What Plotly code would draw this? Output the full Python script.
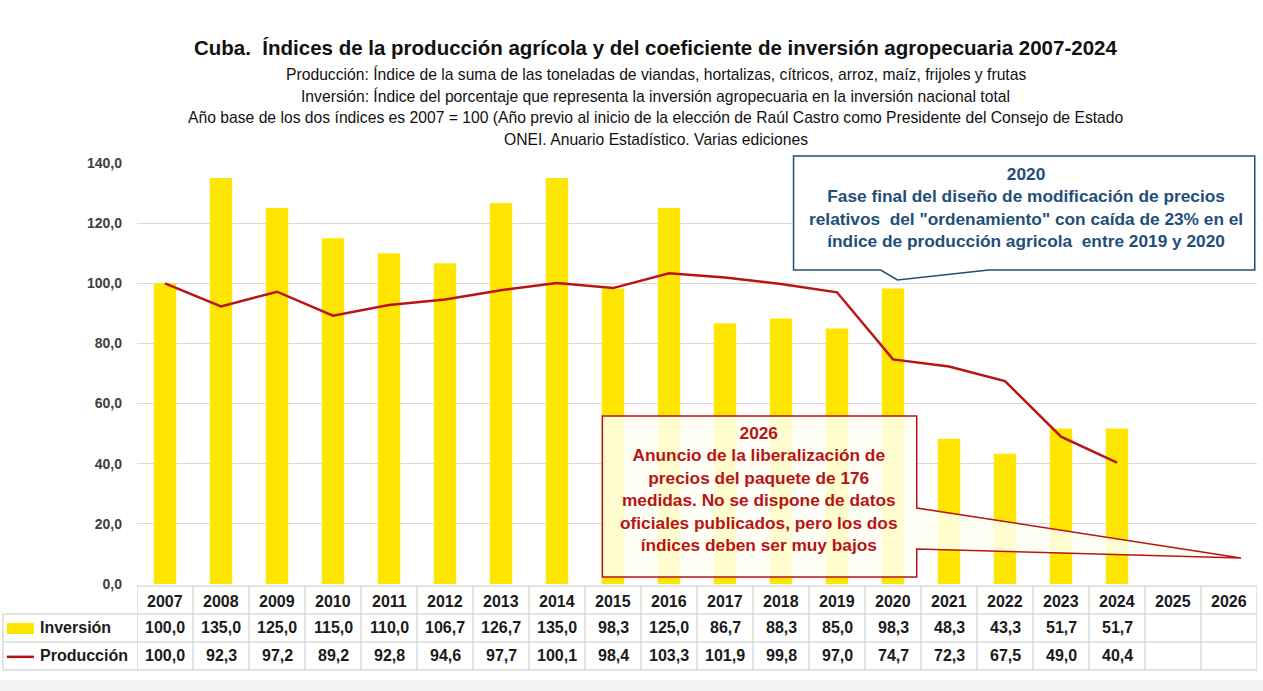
import plotly.graph_objects as go

# ---------------- data ----------------
years = list(range(2007, 2027))
data_years = list(range(2007, 2025))
inversion = [100.0, 135.0, 125.0, 115.0, 110.0, 106.7, 126.7, 135.0, 98.3, 125.0,
             86.7, 88.3, 85.0, 98.3, 48.3, 43.3, 51.7, 51.7]
produccion = [100.0, 92.3, 97.2, 89.2, 92.8, 94.6, 97.7, 100.1, 98.4, 103.3,
              101.9, 99.8, 97.0, 74.7, 72.3, 67.5, 49.0, 40.4]
y_ticks = [0, 20, 40, 60, 80, 100, 120, 140]
series_names = ["Inversión", "Producción"]

title = "Cuba.  Índices de la producción agrícola y del coeficiente de inversión agropecuaria 2007-2024"
subtitles = [
    "Producción: Índice de la suma de las toneladas de viandas, hortalizas, cítricos, arroz, maíz, frijoles y frutas",
    "Inversión: Índice del porcentaje que representa la inversión agropecuaria en la inversión nacional total",
    "Año base de los dos índices es 2007 = 100 (Año previo al inicio de la elección de Raúl Castro como Presidente del Consejo de Estado",
    "ONEI. Anuario Estadístico. Varias ediciones",
]
note_2020 = ["2020", "Fase final del diseño de modificación de precios",
             "relativos  del \"ordenamiento\" con caída de 23% en el",
             "índice de producción agricola  entre 2019 y 2020"]
note_2026 = ["2026", "Anuncio de la liberalización de", "precios del paquete de 176",
             "medidas. No se dispone de datos", "oficiales publicados, pero los dos",
             "índices deben ser muy bajos"]

# ---------------- style ----------------
SANS = "Liberation Sans, Arial, sans-serif"
YELLOW = "#FFE600"
RED = "#B81414"
BLUE = "#1F4E79"
GRID = "#D9D9D9"
TLINE = "#C8C8C8"
TXT = "#1a1a1a"

def fmt(v):
    return f"{v:.1f}".replace(".", ",")

fig = go.Figure()
fig.add_trace(go.Bar(x=data_years, y=inversion, name=series_names[0],
                     marker=dict(color=YELLOW, line=dict(width=0)), width=0.4))
fig.add_trace(go.Scatter(x=data_years, y=produccion, name=series_names[1], mode="lines",
                         line=dict(color=RED, width=2.5)))

shapes = []
annotations = []

def ann(text, x, y, xref="paper", size=14, color=TXT, weight="normal", xanchor="center", **kw):
    annotations.append(dict(text=text, x=x, y=y, xref=xref, yref="paper", showarrow=False,
                            xanchor=xanchor, yanchor="middle",
                            font=dict(family=SANS, size=size, color=color, weight=weight), **kw))

# light band at the very bottom of the picture
shapes.append(dict(type="rect", xref="paper", yref="paper", x0=-0.13, x1=1.01, y0=-0.228, y1=-0.27,
                   fillcolor="#F3F3F3", line=dict(width=0), layer="below"))

# title block
ann(title, 0.463, 1.2755, size=20.5, color="#111111", weight="bold")
for txt, yy in zip(subtitles, [1.2114, 1.1591, 1.1069, 1.057]):
    ann(txt, 0.463, yy, size=15.7, color="#111111")

# data table
row_y = [-0.0404, -0.1045, -0.171]
h_lines = [-0.005, -0.0713, -0.1378, -0.2043]
label_left = -0.1197
for yr in years:
    ann(str(yr), yr, row_y[0], xref="x", size=16, weight="bold")
for yr, v in zip(data_years, inversion):
    ann(fmt(v), yr, row_y[1], xref="x", size=16, weight="bold")
for yr, v in zip(data_years, produccion):
    ann(fmt(v), yr, row_y[2], xref="x", size=16, weight="bold")
for name, yy in zip(series_names, row_y[1:]):
    ann(name, -0.0885, yy, size=16, weight="bold", xanchor="left")
# legend keys
shapes.append(dict(type="rect", xref="paper", yref="paper", x0=-0.1162, x1=-0.0920,
                   y0=-0.0926, y1=-0.1188, fillcolor=YELLOW, line=dict(width=0)))
shapes.append(dict(type="line", xref="paper", yref="paper", x0=-0.1162, x1=-0.0920,
                   y0=-0.173, y1=-0.173, line=dict(color=RED, width=2.5)))
# table grid
shapes.append(dict(type="line", xref="paper", yref="paper", x0=0, x1=1, y0=h_lines[0], y1=h_lines[0],
                   line=dict(color=TLINE, width=1)))
for hy in h_lines[1:]:
    shapes.append(dict(type="line", xref="paper", yref="paper", x0=label_left, x1=1, y0=hy, y1=hy,
                       line=dict(color=TLINE, width=1)))
shapes.append(dict(type="line", xref="paper", yref="paper", x0=label_left, x1=label_left,
                   y0=h_lines[1], y1=h_lines[3], line=dict(color=TLINE, width=1)))
for yr in years + [years[-1] + 1]:
    shapes.append(dict(type="line", xref="x", yref="paper", x0=yr - 0.5, x1=yr - 0.5,
                       y0=h_lines[0], y1=h_lines[3], line=dict(color=TLINE, width=1)))

# 2020 callout (blue)
L, R, T, B = 0.5862, 0.998, 1.0166, 0.7458
path_blue = (f"M {L},{T} L {R},{T} L {R},{B} L 0.7605,{B} L 0.679,0.7221 "
             f"L 0.664,{B} L {L},{B} Z")
shapes.append(dict(type="path", xref="paper", yref="paper", path=path_blue,
                   fillcolor="white", line=dict(color=BLUE, width=1.5), layer="above"))
ann("<br>".join(note_2020), 0.7935, 0.894, size=17.3, color=BLUE, weight="bold", align="center")

# 2026 callout (red)
L, R, T, B = 0.4155, 0.6962, 0.399, 0.0166
path_red = (f"M {L},{T} L {R},{T} L {R},0.1805 L 0.9857,0.0618 L {R},0.0831 "
            f"L {R},{B} L {L},{B} Z")
shapes.append(dict(type="path", xref="paper", yref="paper", path=path_red,
                   fillcolor="rgba(255,255,245,0.85)", line=dict(color=RED, width=1.5), layer="above"))
ann("<br>".join(note_2026), 0.555, 0.2245, size=17.3, color=RED, weight="bold", align="center")

fig.update_layout(
    width=1263, height=691,
    margin=dict(l=137, r=6, t=163, b=107),
    paper_bgcolor="white", plot_bgcolor="white",
    showlegend=False,
    separators=",.",
    shapes=shapes, annotations=annotations,
    xaxis=dict(range=[2006.5, 2026.5], showticklabels=False, showgrid=False, zeroline=False,
               ticks="", fixedrange=True),
    yaxis=dict(range=[0, 140], tickvals=y_ticks, tickformat=".1f", showgrid=True, gridcolor=GRID,
               gridwidth=1, zeroline=False, ticks="", ticklabelstandoff=14,
               tickfont=dict(family=SANS, size=14, color="#404040", weight="bold")),
)

fig.write_html("out.html", config={"displayModeBar": False},
               post_script="document.body.style.margin='0';")
